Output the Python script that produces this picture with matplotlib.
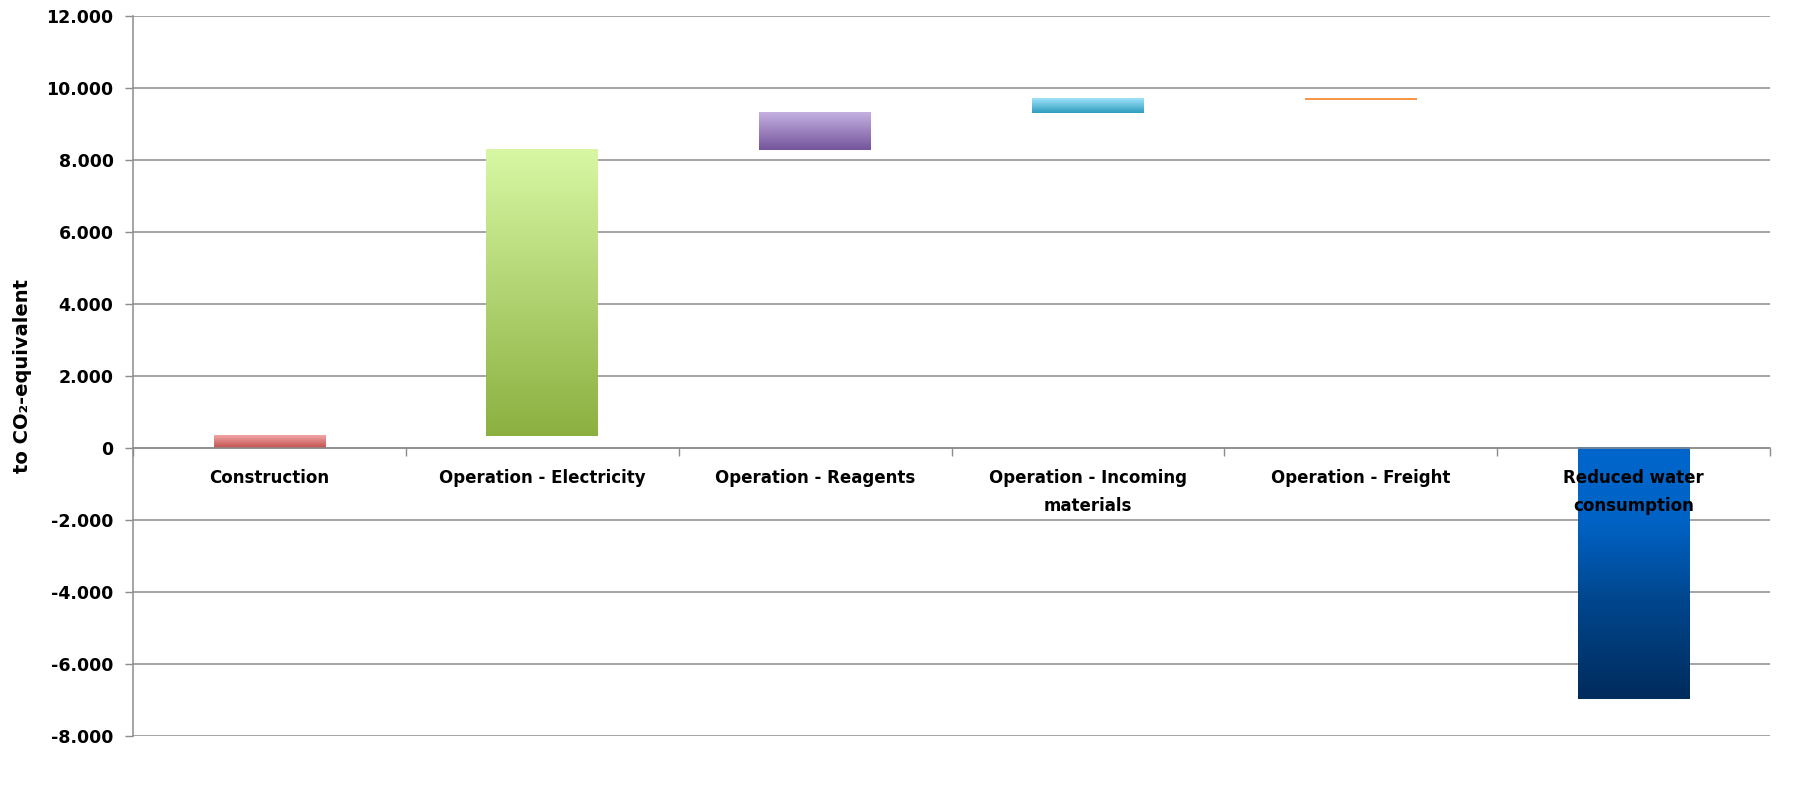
import matplotlib
matplotlib.use("Agg")
import matplotlib.pyplot as plt
import numpy as np
from matplotlib.colors import to_rgb
from matplotlib.ticker import FuncFormatter, FixedLocator

categories = ["Construction", "Operation - Electricity", "Operation - Reagents",
              "Operation - Incoming\nmaterials", "Operation - Freight",
              "Reduced water\nconsumption"]
bottoms = [0, 340, 8290, 9300, 9680, 0]
heights = [350, 7950, 1030, 390, 50, -6980]
# gradient stops (position from top, colour)
gradients = [
    [(0.0, "#f3a6a6"), (1.0, "#c0504d")],
    [(0.0, "#d8f7a4"), (1.0, "#8cb040")],
    [(0.0, "#c5b1e1"), (1.0, "#73549b")],
    [(0.0, "#a0e4fa"), (1.0, "#2e9cbe")],
    [(0.0, "#f79646"), (1.0, "#f79646")],
    [(0.0, "#0066cc"), (0.3, "#0062c4"), (0.6, "#00478f"), (1.0, "#002b5c")],
]
yticks = [-8000, -6000, -4000, -2000, 0, 2000, 4000, 6000, 8000, 10000, 12000]
ylabel = "to CO\u2082-equivalent"

fig = plt.figure(figsize=(18.08, 7.9), dpi=100)
ax = fig.add_axes([0.0736, 0.0684, 0.979 - 0.0736, 0.9797 - 0.0684])

bar_w = 0.41
x = np.arange(len(categories))
bars = ax.bar(x, heights, bottom=bottoms, width=bar_w, color="none",
              edgecolor="none", zorder=2)

def grad_img(stops, n=256):
    pos = np.array([s[0] for s in stops])
    cols = np.array([to_rgb(s[1]) for s in stops])
    t = np.linspace(0, 1, n)
    img = np.stack([np.interp(t, pos, cols[:, k]) for k in range(3)], axis=-1)
    return img[:, None, :]

for b, stops in zip(bars, gradients):
    x0 = b.get_x()
    y0 = b.get_y()
    h = b.get_height()
    top = max(y0, y0 + h)
    bot = min(y0, y0 + h)
    ax.imshow(grad_img(stops), extent=[x0, x0 + b.get_width(), bot, top],
              origin="upper", aspect="auto", zorder=2, interpolation="bilinear")

ax.set_xlim(-0.5, len(categories) - 0.5)
ax.set_ylim(-8000, 12000)
ax.set_aspect("auto")

grid_col = "#8c8c8c"
ax.set_yticks(yticks)
ax.yaxis.set_major_formatter(FuncFormatter(lambda v, p: f"{v:,.0f}".replace(",", ".")))
ax.yaxis.grid(True, color=grid_col, linewidth=1.1)
ax.tick_params(axis="y", length=6, width=1, color=grid_col, pad=8,
               labelsize=12.5)
for lab in ax.get_yticklabels():
    lab.set_fontweight("bold")

# x axis at zero
ax.spines["bottom"].set_position(("data", 0))
ax.spines["bottom"].set_color(grid_col)
ax.spines["bottom"].set_linewidth(1.1)
ax.spines["left"].set_color(grid_col)
ax.spines["left"].set_linewidth(1.1)
ax.spines["top"].set_visible(False)
ax.spines["right"].set_visible(False)

ax.xaxis.set_major_locator(FixedLocator(np.arange(len(categories) + 1) - 0.5))
ax.xaxis.set_minor_locator(FixedLocator(x))
ax.xaxis.set_major_formatter(FuncFormatter(lambda v, p: ""))
ax.set_xticklabels(categories, minor=True)
ax.tick_params(axis="x", which="major", length=6, width=1, color=grid_col)
ax.tick_params(axis="x", which="minor", length=0, pad=15, labelsize=12)
for lab in ax.get_xticklabels(minor=True):
    lab.set_fontweight("bold")
    lab.set_linespacing(1.7)

ax.yaxis.set_zorder(0.5)
ax.xaxis.set_zorder(5)

ax.set_ylabel(ylabel, fontsize=14, fontweight="bold")
ax.yaxis.set_label_coords(-0.0615, 0.5)

fig.savefig("out.png", dpi=100, facecolor="white")
